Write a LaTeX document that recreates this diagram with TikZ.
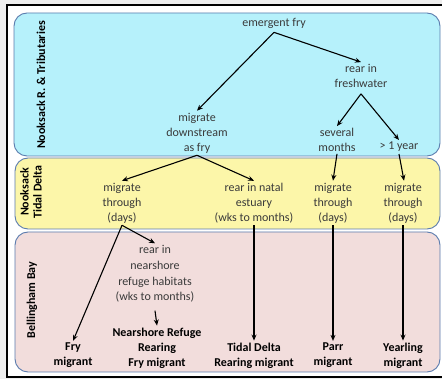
\documentclass[tikz,border=0pt]{standalone}
\usepackage{fontspec}
\setmainfont{Carlito}
\usetikzlibrary{arrows.meta}
\definecolor{pagegray}{HTML}{EEEEEE}
\definecolor{riverfill}{HTML}{B6F1FB}
\definecolor{deltafill}{HTML}{FCF6A9}
\definecolor{bayfill}{HTML}{F2DDDC}
\definecolor{zoneedge}{HTML}{5B7CAE}
\definecolor{stagetext}{HTML}{3A3A3A}
\begin{document}
\begin{tikzpicture}[x=1pt,y=-1pt,
  zone/.style={draw=zoneedge, line width=0.9pt, rounded corners=13pt},
  stage/.style={align=center, font=\fontsize{12}{15}\selectfont, text=stagetext, inner sep=2pt},
  outcome/.style={align=center, font=\fontsize{12}{15}\selectfont\bfseries, text=black, inner sep=2pt},
  zonelabel/.style={rotate=90, align=center, font=\fontsize{12}{13}\selectfont\bfseries},
  flow/.style={line width=1.1pt, -{Stealth[length=6pt,width=5pt]}}]

\useasboundingbox (0,0) rectangle (442,379);
% page and frame
\fill[pagegray] (0,0) rectangle (442,379);
\fill[white] (7,5) rectangle (446,377);
\draw[line width=1.6pt] (7,5) rectangle (446,377);

% habitat zones
\draw[zone, fill=riverfill] (14,13) rectangle (440,156);
\draw[zone, fill=deltafill] (15,158) rectangle (440,229);
\draw[zone, fill=bayfill]   (15,232) rectangle (440,372);

% zone labels
\node[zonelabel] (riverlbl) at (41,85)  {Nooksack R. \& Tributaries};
\node[zonelabel] (deltalbl) at (31,192) {Nooksack\\Tidal Delta};
\node[zonelabel] (baylbl)   at (32,300) {Bellingham Bay};

% freshwater stages
\node[stage] (ef) at (274,23)  {emergent fry};
\node[stage] (rf) at (361,76)  {rear in\\freshwater};
\node[stage] (sm) at (337,140) {several\\months};
\node[stage] (oy) at (399,147) {> 1 year};
\node[stage] (md) at (197,133) {migrate\\downstream\\as fry};

% tidal delta stages
\node[stage] (mt1) at (122,203) {migrate\\through\\(days)};
\node[stage] (rne) at (254,203) {rear in natal\\estuary\\(wks to months)};
\node[stage] (mt2) at (333,203) {migrate\\through\\(days)};
\node[stage] (mt3) at (403,203) {migrate\\through\\(days)};

% bay stages and life-history outcomes
\node[stage, font=\fontsize{12}{15.7}\selectfont] (rn) at (155,274) {rear in\\nearshore\\refuge habitats\\(wks to months)};
\node[outcome] (nrf) at (157,348)   {Nearshore Refuge\\Rearing\\Fry migrant};
\node[outcome] (fm)  at (73,355.5)  {Fry\\migrant};
\node[outcome] (tdr) at (254,355.5) {Tidal Delta\\Rearing migrant};
\node[outcome] (pm)  at (333,355.5) {Parr\\migrant};
\node[outcome] (ym)  at (403,355.5) {Yearling\\migrant};

% pathways
\draw[flow] ([yshift=-2pt]ef.south) -- (rf.north);
\draw[flow] ([yshift=-2pt]ef.south) -- (md.north);
\draw[flow] ([yshift=-4pt]rf.south) -- (sm.north);
\draw[flow] ([yshift=-4pt]rf.south) -- (oy.north);
\draw[flow] (md.south) -- (mt1.north);
\draw[flow] (md.south) -- (rne.north);
\draw[flow] (sm.south) -- (mt2.north);
\draw[flow] (oy.south) -- ([xshift=1pt]mt3.north);
\draw[flow] (mt1.south) -- (rn.north);
\draw[flow] (mt1.south) -- (fm.north);
\draw[flow] ([yshift=-6pt]rn.south) -- (nrf.north);
\draw[flow] (rne.south) -- (tdr.north);
\draw[flow] (mt2.south) -- (pm.north);
\draw[flow] (mt3.south) -- (ym.north);
\end{tikzpicture}
\end{document}
